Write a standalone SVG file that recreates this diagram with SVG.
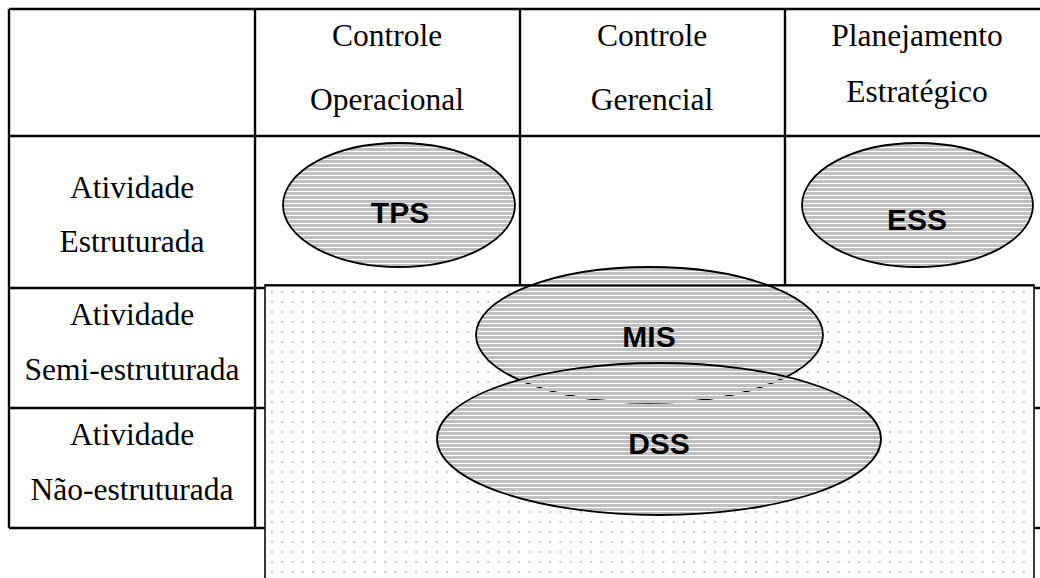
<svg xmlns="http://www.w3.org/2000/svg" width="1040" height="578" viewBox="0 0 1040 578">
  <style>
    .grid { stroke: #000; stroke-width: 2.4; fill: none; }
    .hdr { font-family: "Liberation Serif", "Times New Roman", serif; font-size: 31.5px; fill: #000; text-anchor: middle; }
    .sys { font-family: "Liberation Sans", Arial, sans-serif; font-size: 30px; font-weight: bold; fill: #000; text-anchor: middle; }
    .sysShape { fill: url(#stripes); stroke: #000; stroke-width: 1.8; }
  </style>
  <defs>
    <!-- horizontal hatching used inside the system ellipses -->
    <pattern id="stripes" patternUnits="userSpaceOnUse" x="0" y="0" width="10" height="4">
      <rect width="10" height="4" fill="#ffffff"/>
      <rect width="10" height="3" fill="#c0c0c0"/>
    </pattern>
    <!-- fine dot screen for the shaded area -->
    <pattern id="dots" patternUnits="userSpaceOnUse" x="270" y="290" width="10.3" height="10">
      <rect width="10.3" height="10" fill="#ffffff"/>
      <circle cx="2" cy="2" r="1.1" fill="#bdbdbd"/>
    </pattern>
    <!-- mask rows: hidden outline shows only along some hatch rows -->
    <pattern id="maskRows" patternUnits="userSpaceOnUse" x="0" y="0" width="10" height="4">
      <rect y="3" width="10" height="1" fill="#fff"/>
    </pattern>
    <mask id="rowMask" maskUnits="userSpaceOnUse" x="0" y="0" width="1040" height="578">
      <rect width="1040" height="578" fill="url(#maskRows)"/>
    </mask>
    <clipPath id="dssClip">
      <ellipse cx="659" cy="439" rx="221" ry="75"/>
    </clipPath>
  </defs>

  <!-- table grid -->
  <g id="table">
    <line class="grid" x1="9" y1="9" x2="1040" y2="9"/>
    <line class="grid" x1="9" y1="136" x2="1040" y2="136"/>
    <line class="grid" x1="9" y1="288" x2="1040" y2="288"/>
    <line class="grid" x1="9" y1="408" x2="1040" y2="408"/>
    <line class="grid" x1="9" y1="528" x2="265" y2="528"/>
    <line class="grid" x1="1034" y1="528" x2="1040" y2="528"/>
    <line class="grid" x1="9" y1="9" x2="9" y2="528"/>
    <line class="grid" x1="255" y1="9" x2="255" y2="528"/>
    <line class="grid" x1="520" y1="9" x2="520" y2="288"/>
    <line class="grid" x1="785" y1="9" x2="785" y2="288"/>
  </g>

  <!-- column headings -->
  <g id="col-operacional">
    <text class="hdr" x="387" y="46">Controle</text>
    <text class="hdr" x="387" y="110">Operacional</text>
  </g>
  <g id="col-gerencial">
    <text class="hdr" x="652" y="46">Controle</text>
    <text class="hdr" x="652" y="110">Gerencial</text>
  </g>
  <g id="col-estrategico">
    <text class="hdr" x="917" y="46">Planejamento</text>
    <text class="hdr" x="917" y="102">Estratégico</text>
  </g>

  <!-- row headings -->
  <g id="row-estruturada">
    <text class="hdr" x="132" y="198">Atividade</text>
    <text class="hdr" x="132" y="252">Estruturada</text>
  </g>
  <g id="row-semi">
    <text class="hdr" x="132" y="325">Atividade</text>
    <text class="hdr" x="132" y="380">Semi-estruturada</text>
  </g>
  <g id="row-nao">
    <text class="hdr" x="132" y="445">Atividade</text>
    <text class="hdr" x="132" y="500">Não-estruturada</text>
  </g>

  <!-- shaded area for semi- and non-structured work -->
  <g id="shaded-area">
    <rect x="265" y="285" width="769" height="320" fill="url(#dots)" stroke="#222" stroke-width="1.8"/>
  </g>

  <g id="tps">
    <ellipse class="sysShape" cx="399" cy="205" rx="116" ry="62"/>
    <text class="sys" x="400" y="223">TPS</text>
  </g>
  <g id="ess">
    <ellipse class="sysShape" cx="917.5" cy="205" rx="115.5" ry="62"/>
    <text class="sys" x="917" y="230">ESS</text>
  </g>
  <g id="mis">
    <ellipse class="sysShape" cx="649.5" cy="335" rx="173.5" ry="68"/>
    <text class="sys" x="649" y="347">MIS</text>
  </g>
  <g id="dss">
    <ellipse class="sysShape" cx="659" cy="439" rx="222" ry="76"/>
    <!-- lower outline of MIS glimpsed through the hatching -->
    <g clip-path="url(#dssClip)" mask="url(#rowMask)">
      <ellipse cx="649.5" cy="335" rx="173.5" ry="68" fill="none" stroke="#000" stroke-width="1.6"/>
    </g>
    <text class="sys" x="659" y="454">DSS</text>
  </g>

  <!-- top edge of the shaded area runs over the MIS ellipse -->
  <g id="connectors">
    <line x1="265" y1="285.5" x2="1034" y2="285.5" stroke="#000" stroke-width="2"/>
  </g>
</svg>
